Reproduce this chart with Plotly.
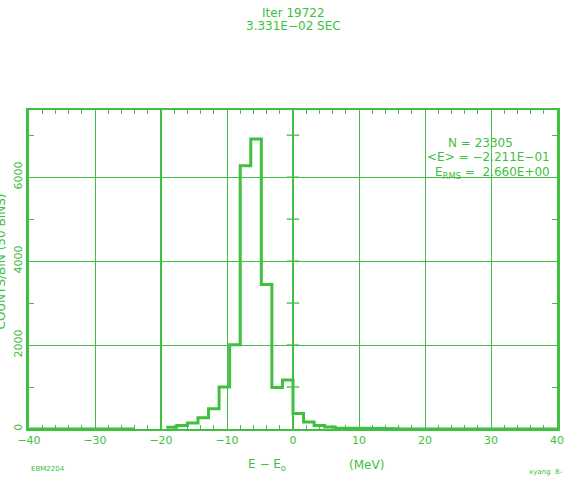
import plotly.graph_objects as go

GREEN = "#40c040"

# ---- data ----
bin_start = -40.0
bin_width = 1.6
counts = [0, 0, 0, 0, 0, 0, 0, 0, 0, 0,
          None, None, None,
          40, 86, 143, 270, 480, 1000, 2010, 6270, 6910, 3440, 990, 1170,
          370, 165, 85, 45, 22, 12,
          8, 6, 5, 4, 3, 3, 2, 2, 1, 1, 1, 1, 0, 0, 0, 0, 0, 0, 0]
x_ticks = [-40, -30, -20, -10, 0, 10, 20, 30, 40]
y_ticks = [0, 2000, 4000, 6000]
cross_tick_vals = [1000, 2000, 3000, 4000, 5000, 6000, 7000]
emph_x = [-20]

# build step outline from bins
xs, ys = [], []
prev_none = True
for i, c in enumerate(counts):
    left = bin_start + i * bin_width
    right = left + bin_width
    if c is None:
        if not prev_none:
            xs.append(None); ys.append(None)
        prev_none = True
        continue
    xs += [left, right]
    ys += [c, c]
    prev_none = False

fig = go.Figure()
fig.add_trace(go.Scatter(x=xs, y=ys, mode="lines", connectgaps=False,
                         line=dict(color=GREEN, width=3), hoverinfo="skip"))
fig.add_trace(go.Scatter(x=[0] * len(cross_tick_vals), y=cross_tick_vals, mode="markers",
                         marker=dict(symbol="line-ew", size=9,
                                     line=dict(color=GREEN, width=1.3)),
                         hoverinfo="skip"))
for xv in emph_x:
    fig.add_vline(x=xv, line=dict(color=GREEN, width=2))

axis_font = dict(family="DejaVu Sans", size=11, color=GREEN)
fig.update_xaxes(range=[-40, 40], tickvals=x_ticks,
                 ticktext=[str(v).replace("-", "\u2212") for v in x_ticks],
                 showgrid=True, gridcolor=GREEN, gridwidth=1,
                 zeroline=True, zerolinecolor=GREEN, zerolinewidth=2,
                 showline=True, linecolor=GREEN, linewidth=2, mirror="ticks",
                 ticks="inside", ticklen=0, tickcolor=GREEN,
                 minor=dict(dtick=2, ticks="inside", ticklen=4, tickcolor=GREEN, tickwidth=1.3,
                            showgrid=False),
                 tickfont=axis_font, automargin=False)
fig.update_yaxes(range=[0, 7600], tickvals=y_ticks,
                 showgrid=True, gridcolor=GREEN, gridwidth=1,
                 zeroline=False,
                 showline=True, linecolor=GREEN, linewidth=2.5, mirror="ticks",
                 ticks="inside", ticklen=0, tickcolor=GREEN, tickangle=-90,
                 minor=dict(dtick=1000, ticks="inside", ticklen=5, tickcolor=GREEN, tickwidth=1.3,
                            showgrid=False),
                 tickfont=axis_font, automargin=False)

txt = dict(family="DejaVu Sans", size=12, color=GREEN)
small = dict(family="DejaVu Sans", size=7, color=GREEN)
annots = [
    dict(x=0.5, y=1, yshift=97, xref="paper", yref="paper", text="Iter 19722", showarrow=False,
         font=txt, xanchor="center", yanchor="middle"),
    dict(x=0.5, y=1, yshift=84, xref="paper", yref="paper", text="3.331E\u221202 SEC", showarrow=False,
         font=txt, xanchor="center", yanchor="middle"),
    dict(x=0.855, y=1, yshift=-33, xref="paper", yref="paper", text="N = 23305", showarrow=False,
         font=txt, xanchor="center", yanchor="middle"),
    dict(x=0.99, y=1, yshift=-47, xref="paper", yref="paper", text="&lt;E&gt; = \u22122.211E\u221201",
         showarrow=False, font=txt, xanchor="right", yanchor="middle"),
    dict(x=0.99, y=1, yshift=-63, xref="paper", yref="paper",
         text="E<sub>RMS</sub> =  2.660E+00", showarrow=False, font=txt,
         xanchor="right", yanchor="middle"),
    dict(x=0, xshift=-29, y=0.5, yshift=8, xref="paper", yref="paper", text="COUNTS/BIN (50 BINS)",
         textangle=-90, showarrow=False, font=txt, xanchor="center", yanchor="middle"),
    dict(x=0.45, y=0, yshift=-36, xref="paper", yref="paper", text="E \u2212 E<sub>o</sub>",
         showarrow=False, font=txt, xanchor="center", yanchor="middle"),
    dict(x=0.64, y=0, yshift=-36, xref="paper", yref="paper", text="(MeV)",
         showarrow=False, font=txt, xanchor="center", yanchor="middle"),
    dict(x=0.0, y=0, yshift=-40, xref="paper", yref="paper", text="EBM2204",
         showarrow=False, font=small, xanchor="left", yanchor="middle"),
    dict(x=1.015, y=0, yshift=-43, xref="paper", yref="paper", text="xyang  8\u2013",
         showarrow=False, font=small, xanchor="right", yanchor="middle"),
]
fig.update_layout(width=567, height=478, margin=dict(l=29, r=10, t=110, b=49),
                  paper_bgcolor="white", plot_bgcolor="white", showlegend=False,
                  annotations=annots)
fig.write_html("out.html", config={"displayModeBar": False},
               post_script="document.body.style.margin='0';")
